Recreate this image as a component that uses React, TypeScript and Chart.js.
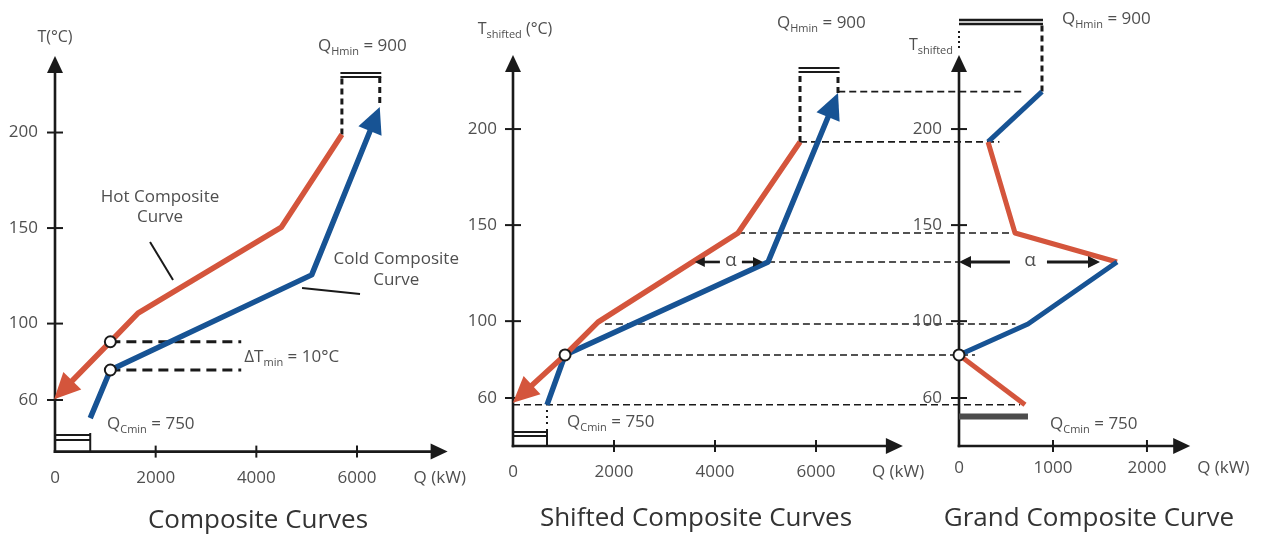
import React, { useEffect, useRef } from "react";
import { Chart, registerables } from "chart.js";

Chart.register(...registerables);

const W = 1267;
const H = 537;
const FONT = '"Open Sans", "DejaVu Sans", sans-serif';
const RED = "#d4553c";
const BLUE = "#175394";
const INK = "#1a1a1a";
const TXT = "#4f4f4f";
const TITLE = "#333333";

// ---------------- Panel 1: Composite Curves ----------------
const p1XTicks = [0, 2000, 4000, 6000];
const p1YTicks = [60, 100, 150, 200];
const p1HotQ = [5700, 4500, 1650, 1100, 80];
const p1HotT = [199, 150.5, 105.5, 90.5, 63];
const p1ColdQ = [700, 1100, 5100, 6400];
const p1ColdT = [50.5, 75.7, 125.5, 210];
const p1PinchQ = [1100, 1100];
const p1PinchT = [90.5, 75.7];
const p1DTminEndQ = 3700;
const p1QHminT = 229;
const p1QCminT = 41.7;

// ---------------- Panel 2: Shifted Composite Curves ----------------
const p2XTicks = [0, 2000, 4000, 6000];
const p2YTicks = [60, 100, 150, 200];
const p2HotQ = [5683, 4455, 1683, 1030, 100];
const p2HotT = [193.3, 145.9, 99.5, 82.4, 60];
const p2ColdQ = [673, 1030, 5050, 6382];
const p2ColdT = [56.4, 82.4, 130.8, 215.4];
const p2PinchQ = 1030;
const p2PinchT = 82.4;
const p2QHminT = 229.7;
const p2QCminT = 42.3;
const p2AlphaQ = [3600, 4950];
const p2AlphaT = 130.8;

// guide lines from panel 2 to panel 3
const guideT = [219.5, 193.3, 145.9, 130.8, 98.5, 82.4, 56.5];
const guideFromQ = [6440, 5683, 4455, 5050, 1820, 1465, 0];
const guideToQ = [680, 430, 560, 0, 600, 170, 650];

// ---------------- Panel 3: Grand Composite Curve ----------------
const p3XTicks = [0, 1000, 2000];
const p3YTicks = [60, 100, 150, 200];
const gccQ = [883, 309, 596, 1681, 734, 0, 702];
const gccT = [219.5, 193.3, 145.9, 130.8, 98.5, 82.4, 56.5];
const gccSegColors = [BLUE, RED, RED, BLUE, BLUE, RED];
const p3QHminT = 256.8;
const p3QCminT = 50.4;
const p3AlphaQ = [0, 1500];
const p3AlphaT = 130.8;

// ---------------- helpers ----------------
function P(chart: any, q: number, t: number): [number, number] {
  return [chart.scales.x.getPixelForValue(q), chart.scales.y.getPixelForValue(t)];
}

function seg(ctx: CanvasRenderingContext2D, x1: number, y1: number, x2: number, y2: number, w: number, color = INK, dash: number[] = []) {
  ctx.save();
  ctx.beginPath();
  ctx.setLineDash(dash);
  ctx.lineWidth = w;
  ctx.strokeStyle = color;
  ctx.lineCap = "butt";
  ctx.moveTo(x1, y1);
  ctx.lineTo(x2, y2);
  ctx.stroke();
  ctx.restore();
}

function head(ctx: CanvasRenderingContext2D, fx: number, fy: number, tx: number, ty: number, len: number, half: number, color: string) {
  const a = Math.atan2(ty - fy, tx - fx);
  const c = Math.cos(a);
  const s = Math.sin(a);
  ctx.save();
  ctx.fillStyle = color;
  ctx.beginPath();
  ctx.moveTo(tx, ty);
  ctx.lineTo(tx - len * c + half * s, ty - len * s - half * c);
  ctx.lineTo(tx - len * c - half * s, ty - len * s + half * c);
  ctx.closePath();
  ctx.fill();
  ctx.restore();
}

function tipOf(chart: any, qs: number[], ts: number[], ext: number) {
  const n = qs.length;
  const [x0, y0] = P(chart, qs[n - 2], ts[n - 2]);
  const [x1, y1] = P(chart, qs[n - 1], ts[n - 1]);
  const d = Math.hypot(x1 - x0, y1 - y0);
  return { fx: x0, fy: y0, tx: x1 + ((x1 - x0) / d) * ext, ty: y1 + ((y1 - y0) / d) * ext };
}

function curveArrow(chart: any, qs: number[], ts: number[], color: string) {
  const t = tipOf(chart, qs, ts, 7);
  head(chart.ctx, t.fx, t.fy, t.tx, t.ty, 26, 12.5, color);
}

function circle(ctx: CanvasRenderingContext2D, x: number, y: number) {
  ctx.save();
  ctx.beginPath();
  ctx.arc(x, y, 5.5, 0, Math.PI * 2);
  ctx.fillStyle = "#fff";
  ctx.fill();
  ctx.lineWidth = 2;
  ctx.strokeStyle = INK;
  ctx.stroke();
  ctx.restore();
}

function text(ctx: CanvasRenderingContext2D, s: string, x: number, y: number, size: number, align: CanvasTextAlign = "left", color = TXT) {
  ctx.save();
  ctx.font = `${size}px ${FONT}`;
  ctx.textAlign = align;
  ctx.textBaseline = "middle";
  ctx.fillStyle = color;
  ctx.fillText(s, x, y);
  ctx.restore();
}

function rich(ctx: CanvasRenderingContext2D, parts: Array<[string, boolean]>, x: number, y: number, size: number, align: "left" | "center" | "right" = "left", color = TXT) {
  const sub = Math.round(size * 0.66);
  ctx.save();
  ctx.fillStyle = color;
  ctx.textBaseline = "alphabetic";
  ctx.textAlign = "left";
  const widths = parts.map(([s, isSub]) => {
    ctx.font = `${isSub ? sub : size}px ${FONT}`;
    return ctx.measureText(s).width;
  });
  const total = widths.reduce((a, b) => a + b, 0);
  let cx = align === "left" ? x : align === "center" ? x - total / 2 : x - total;
  const base = y + size * 0.36;
  parts.forEach(([s, isSub], i) => {
    ctx.font = `${isSub ? sub : size}px ${FONT}`;
    ctx.fillText(s, cx, isSub ? base + size * 0.24 : base);
    cx += widths[i];
  });
  ctx.restore();
}

function drawAxes(chart: any, xTicks: number[], yTicks: number[]) {
  const ctx = chart.ctx;
  const { left, right, top, bottom } = chart.chartArea;
  seg(ctx, left, bottom + 1.3, left, top + 12, 2.6);
  head(ctx, left, bottom, left, top, 17, 8, INK);
  seg(ctx, left - 1.3, bottom, right - 12, bottom, 2.6);
  head(ctx, left, bottom, right, bottom, 17, 8, INK);
  yTicks.forEach((v) => {
    const y = chart.scales.y.getPixelForValue(v);
    seg(ctx, left - 8, y, left + 8, y, 2);
  });
  xTicks.forEach((v) => {
    if (v === 0) return;
    const x = chart.scales.x.getPixelForValue(v);
    seg(ctx, x, bottom - 6, x, bottom + 6, 2);
  });
}

function lineDs(qs: number[], ts: number[], color: string, width: number) {
  return {
    data: qs.map((q, i) => ({ x: q, y: ts[i] })),
    borderColor: color,
    borderWidth: width,
    pointRadius: 0,
    fill: false,
    tension: 0,
    borderJoinStyle: "round",
    borderCapStyle: "butt",
  };
}

function baseConfig(o: {
  area: { left: number; right: number; top: number; bottom: number };
  xMin: number; xMax: number; yMin: number; yMax: number;
  xTicks: number[]; yTicks: number[];
  xPad: number; yPad: number;
  datasets: any[];
  plugin: any;
}) {
  const yW = 50;
  const xH = 40;
  const tickFont = { family: FONT, size: 17 };
  return {
    type: "line",
    data: { datasets: o.datasets },
    options: {
      responsive: false,
      animation: false,
      events: [],
      layout: {
        padding: {
          left: o.area.left - yW,
          right: W - o.area.right,
          top: o.area.top,
          bottom: H - o.area.bottom - xH,
        },
      },
      plugins: { legend: { display: false }, tooltip: { enabled: false }, title: { display: false } },
      scales: {
        x: {
          type: "linear",
          min: o.xMin,
          max: o.xMax,
          afterBuildTicks: (s: any) => {
            s.ticks = o.xTicks.map((v) => ({ value: v }));
          },
          afterFit: (s: any) => {
            s.height = xH;
          },
          grid: { display: false, drawTicks: false },
          border: { display: false },
          ticks: {
            padding: o.xPad,
            color: TXT,
            font: tickFont,
            maxRotation: 0,
            autoSkip: false,
            callback: (v: any) => String(v),
          },
        },
        y: {
          type: "linear",
          min: o.yMin,
          max: o.yMax,
          afterBuildTicks: (s: any) => {
            s.ticks = o.yTicks.map((v) => ({ value: v }));
          },
          afterFit: (s: any) => {
            s.width = yW;
          },
          grid: { display: false, drawTicks: false },
          border: { display: false },
          ticks: {
            padding: o.yPad,
            color: TXT,
            font: tickFont,
            autoSkip: false,
            callback: (v: any) => String(v),
          },
        },
      },
    },
    plugins: [o.plugin],
  } as any;
}

// ---------------- panel configs ----------------
function cfg1() {
  const plugin = {
    id: "p1",
    beforeDatasetsDraw(chart: any) {
      const ctx = chart.ctx;
      const { left, bottom } = chart.chartArea;
      drawAxes(chart, p1XTicks, p1YTicks);
      // QHmin bracket
      const [hx, hy] = P(chart, p1HotQ[0], p1HotT[0]);
      const tip = tipOf(chart, p1ColdQ, p1ColdT, 7);
      const by = P(chart, 0, p1QHminT)[1];
      seg(ctx, hx, hy, hx, by, 3, INK, [6, 4]);
      seg(ctx, tip.tx, tip.ty - 4, tip.tx, by, 3, INK, [6, 4]);
      seg(ctx, hx - 1.5, by, tip.tx + 1.5, by, 2);
      seg(ctx, hx - 1.5, by - 4, tip.tx + 1.5, by - 4, 2);
      // QCmin bracket
      const [cx] = P(chart, p1ColdQ[0], p1ColdT[0]);
      const cy = P(chart, 0, p1QCminT)[1];
      seg(ctx, left, cy, cx, cy, 2);
      seg(ctx, left, cy + 5, cx, cy + 5, 2);
      seg(ctx, cx, cy - 2, cx, bottom, 2);
      // delta T min dashes
      p1PinchT.forEach((t, i) => {
        const [x1, y1] = P(chart, p1PinchQ[i], t);
        const [x2] = P(chart, p1DTminEndQ, t);
        seg(ctx, x1, y1, x2, y1, 3, INK, [10, 6]);
      });
    },
    afterDatasetsDraw(chart: any) {
      const ctx = chart.ctx;
      const { left, right, top, bottom } = chart.chartArea;
      curveArrow(chart, p1HotQ, p1HotT, RED);
      curveArrow(chart, p1ColdQ, p1ColdT, BLUE);
      p1PinchT.forEach((t, i) => {
        const [x, y] = P(chart, p1PinchQ[i], t);
        circle(ctx, x, y);
      });
      // pointers
      let a = P(chart, 1888, 142.7);
      let b = P(chart, 2345, 122.8);
      seg(ctx, a[0], a[1], b[0], b[1], 2);
      a = P(chart, 4908, 118.6);
      b = P(chart, 6060, 115.5);
      seg(ctx, a[0], a[1], b[0], b[1], 2);
      // texts
      text(ctx, "T(°C)", left, top - 19, 16, "center");
      let p = P(chart, 5225, 245.8);
      rich(ctx, [["Q", false], ["Hmin", true], [" = 900", false]], p[0], p[1], 17);
      p = P(chart, 2086, 166.3);
      text(ctx, "Hot Composite", p[0], p[1], 17, "center");
      text(ctx, "Curve", p[0], p[1] + 20, 17, "center");
      p = P(chart, 6780, 133.8);
      text(ctx, "Cold Composite", p[0], p[1], 17, "center");
      text(ctx, "Curve", p[0], p[1] + 21, 17, "center");
      p = P(chart, 3760, (p1PinchT[0] + p1PinchT[1]) / 2);
      rich(ctx, [["ΔT", false], ["min", true], [" = 10°C", false]], p[0], p[1], 17);
      p = P(chart, 1033, 48);
      rich(ctx, [["Q", false], ["Cmin", true], [" = 750", false]], p[0], p[1], 17);
      text(ctx, "Q (kW)", right - 34, bottom + 27, 17, "left");
      text(ctx, "Composite Curves", 258, 521, 26, "center", TITLE);
    },
  };
  return baseConfig({
    area: { left: 55, right: 447.6, top: 56.1, bottom: 451.6 },
    xMin: 0, xMax: 7800, yMin: 33, yMax: 240,
    xTicks: p1XTicks, yTicks: p1YTicks,
    xPad: 16, yPad: 17,
    datasets: [lineDs(p1HotQ, p1HotT, RED, 5.5), lineDs(p1ColdQ, p1ColdT, BLUE, 5.5)],
    plugin,
  });
}

function cfg2(c3: any) {
  const plugin = {
    id: "p2",
    beforeDatasetsDraw(chart: any) {
      const ctx = chart.ctx;
      const { left, bottom } = chart.chartArea;
      drawAxes(chart, p2XTicks, p2YTicks);
      // guides across to the grand composite curve
      guideT.forEach((t, i) => {
        const [x1, y1] = P(chart, guideFromQ[i], t);
        const x2 = c3.scales.x.getPixelForValue(guideToQ[i]);
        seg(ctx, x1, y1, x2, y1, 1.6, INK, [7, 4]);
      });
      // QHmin bracket
      const [hx, hy] = P(chart, p2HotQ[0], p2HotT[0]);
      const tip = tipOf(chart, p2ColdQ, p2ColdT, 7);
      const by = P(chart, 0, p2QHminT)[1];
      seg(ctx, hx, hy, hx, by, 3, INK, [6, 4]);
      seg(ctx, tip.tx, tip.ty, tip.tx, by, 3, INK, [6, 4]);
      seg(ctx, hx - 1.5, by, tip.tx + 1.5, by, 2);
      seg(ctx, hx - 1.5, by - 4, tip.tx + 1.5, by - 4, 2);
      // QCmin bracket
      const [cx, csy] = P(chart, p2ColdQ[0], p2ColdT[0]);
      const cy = P(chart, 0, p2QCminT)[1];
      seg(ctx, left, cy, cx, cy, 2);
      seg(ctx, left, cy + 4, cx, cy + 4, 2);
      seg(ctx, cx, cy - 3, cx, bottom, 2);
      seg(ctx, cx, csy + 5, cx, cy - 6, 2, INK, [2, 4]);
    },
    afterDatasetsDraw(chart: any) {
      const ctx = chart.ctx;
      const { left, right, top, bottom } = chart.chartArea;
      curveArrow(chart, p2HotQ, p2HotT, RED);
      curveArrow(chart, p2ColdQ, p2ColdT, BLUE);
      const [px, py] = P(chart, p2PinchQ, p2PinchT);
      circle(ctx, px, py);
      // alpha arrow
      const [ax1, ay] = P(chart, p2AlphaQ[0], p2AlphaT);
      const [ax2] = P(chart, p2AlphaQ[1], p2AlphaT);
      const mid = (ax1 + ax2) / 2 + 2;
      seg(ctx, ax1 + 6, ay, mid - 11, ay, 2.6);
      seg(ctx, mid + 11, ay, ax2 - 6, ay, 2.6);
      head(ctx, mid, ay, ax1, ay, 10, 5, INK);
      head(ctx, mid, ay, ax2, ay, 10, 5, INK);
      text(ctx, "α", mid, ay - 1, 19, "center", TXT);
      // texts
      rich(ctx, [["T", false], ["shifted", true], [" (°C)", false]], left + 2, top - 27, 16, "center");
      let p = P(chart, 5228, 255.8);
      rich(ctx, [["Q", false], ["Hmin", true], [" = 900", false]], p[0], p[1], 17);
      p = P(chart, 1069, 47.9);
      rich(ctx, [["Q", false], ["Cmin", true], [" = 750", false]], p[0], p[1], 17);
      text(ctx, "Q (kW)", right - 31, bottom + 26, 17, "left");
      text(ctx, "Shifted Composite Curves", 696, 519, 26, "center", TITLE);
    },
  };
  return baseConfig({
    area: { left: 513, right: 902.9, top: 55.1, bottom: 446 },
    xMin: 0, xMax: 7720, yMin: 35, yMax: 238.5,
    xTicks: p2XTicks, yTicks: p2YTicks,
    xPad: 16, yPad: 16,
    datasets: [lineDs(p2HotQ, p2HotT, RED, 5.5), lineDs(p2ColdQ, p2ColdT, BLUE, 5.5)],
    plugin,
  });
}

function cfg3() {
  const plugin = {
    id: "p3",
    beforeDatasetsDraw(chart: any) {
      const ctx = chart.ctx;
      const { left } = chart.chartArea;
      drawAxes(chart, p3XTicks, p3YTicks);
      // QHmin bracket
      const [tx, ty] = P(chart, gccQ[0], gccT[0]);
      const by = P(chart, 0, p3QHminT)[1];
      seg(ctx, tx, ty, tx, by + 4, 3, INK, [6, 4]);
      seg(ctx, left, by, tx + 1, by, 2.6);
      seg(ctx, left, by + 4, tx + 1, by + 4, 2.6);
      seg(ctx, left, by + 11, left, by + 28, 2, INK, [2, 3]);
      // QCmin bar
      const [bx] = P(chart, gccQ[gccQ.length - 1], 0);
      const cy = P(chart, 0, p3QCminT)[1];
      seg(ctx, left, cy, bx + 3, cy, 6, "#4c4c4c");
    },
    afterDatasetsDraw(chart: any) {
      const ctx = chart.ctx;
      const { left, right, top, bottom } = chart.chartArea;
      const [px, py] = P(chart, gccQ[5], gccT[5]);
      circle(ctx, px, py);
      // alpha arrow
      const [ax1, ay] = P(chart, p3AlphaQ[0], p3AlphaT);
      const [ax2] = P(chart, p3AlphaQ[1], p3AlphaT);
      const amid = P(chart, 755, p3AlphaT)[0];
      seg(ctx, ax1 + 6, ay, amid - 20, ay, 3);
      seg(ctx, amid + 17, ay, ax2 - 8, ay, 3);
      head(ctx, amid, ay, ax1, ay, 12, 6, INK);
      head(ctx, amid, ay, ax2, ay, 12, 6, INK);
      text(ctx, "α", amid, ay - 1, 19, "center", TXT);
      // texts
      rich(ctx, [["T", false], ["shifted", true]], left - 6, top - 11, 16, "right");
      let p = P(chart, 1096, 257.8);
      rich(ctx, [["Q", false], ["Hmin", true], [" = 900", false]], p[0], p[1], 17);
      p = P(chart, 968, 46.9);
      rich(ctx, [["Q", false], ["Cmin", true], [" = 750", false]], p[0], p[1], 17);
      text(ctx, "Q (kW)", right + 7, bottom + 22, 17, "left");
      text(ctx, "Grand Composite Curve", 1089, 519, 26, "center", TITLE);
    },
  };
  const gcc = {
    ...lineDs(gccQ, gccT, BLUE, 5),
    segment: { borderColor: (c: any) => gccSegColors[c.p0DataIndex] },
  };
  return baseConfig({
    area: { left: 959, right: 1190.2, top: 55.1, bottom: 446 },
    xMin: 0, xMax: 2460, yMin: 35, yMax: 238.5,
    xTicks: p3XTicks, yTicks: p3YTicks,
    xPad: 12, yPad: 17,
    datasets: [gcc],
    plugin,
  });
}

export default function App() {
  const r1 = useRef<HTMLCanvasElement | null>(null);
  const r2 = useRef<HTMLCanvasElement | null>(null);
  const r3 = useRef<HTMLCanvasElement | null>(null);

  useEffect(() => {
    const c3 = new Chart(r3.current as HTMLCanvasElement, cfg3());
    const c2 = new Chart(r2.current as HTMLCanvasElement, cfg2(c3));
    const c1 = new Chart(r1.current as HTMLCanvasElement, cfg1());
    return () => {
      c1.destroy();
      c2.destroy();
      c3.destroy();
    };
  }, []);

  const cs: React.CSSProperties = { position: "absolute", left: 0, top: 0 };
  return (
    <div style={{ position: "fixed", left: 0, top: 0, width: W, height: H, background: "#fff", overflow: "hidden" }}>
      <canvas ref={r1} width={W} height={H} style={cs} />
      <canvas ref={r2} width={W} height={H} style={cs} />
      <canvas ref={r3} width={W} height={H} style={cs} />
    </div>
  );
}
